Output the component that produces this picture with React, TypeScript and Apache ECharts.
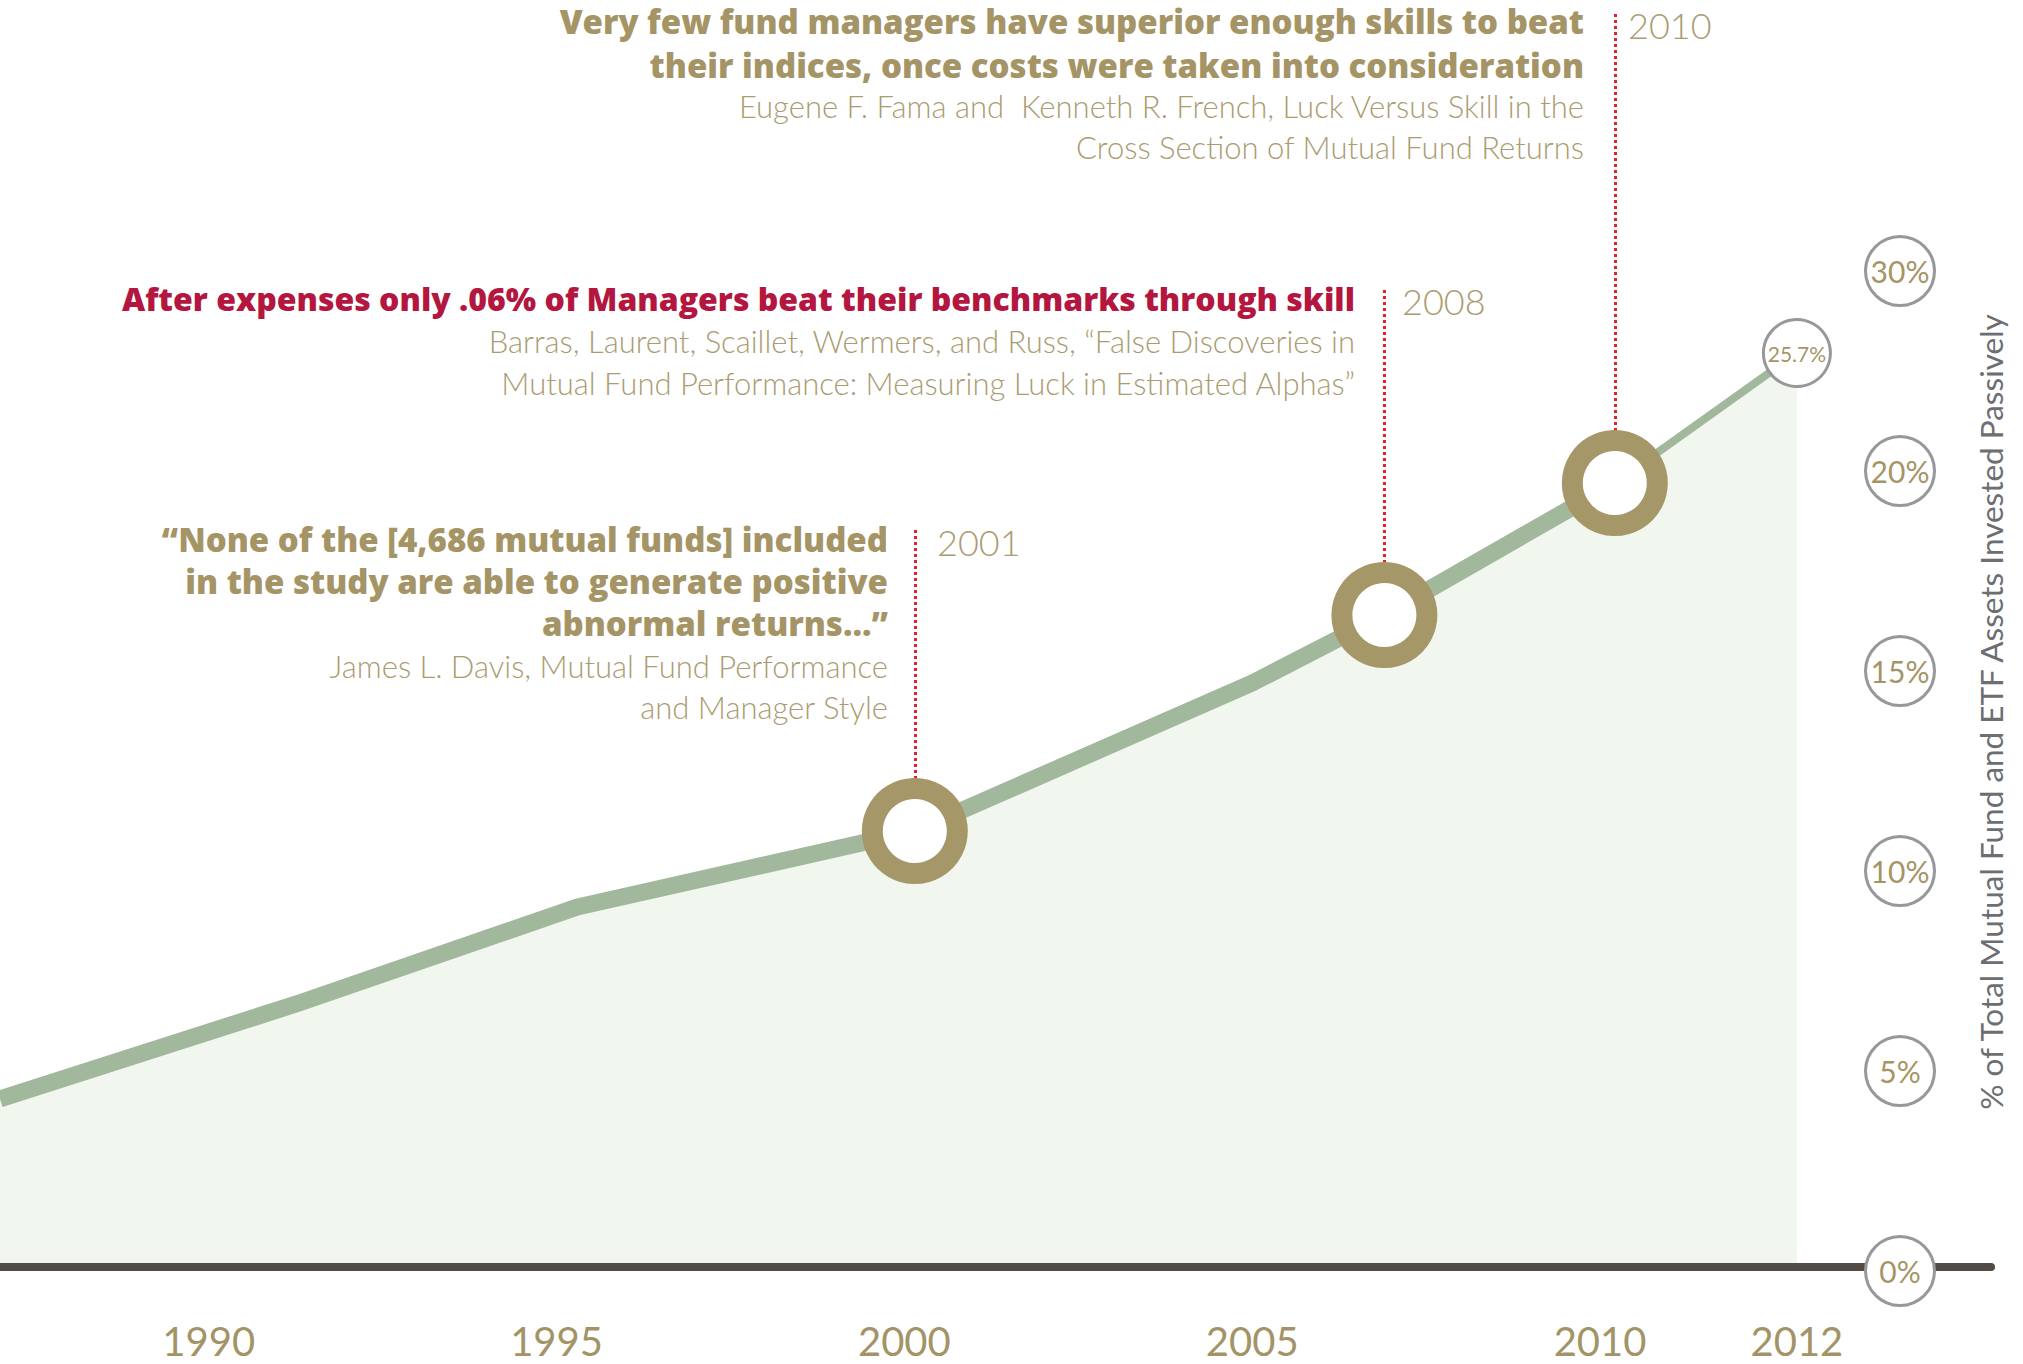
import React, { useEffect, useRef } from "react";
import * as echarts from "echarts";

// ---- data ----
const years = [1987, 1991.3, 1995.3, 2000.15, 2005, 2006.9, 2010.15, 2012];
const passiveShare = [4.2, 6.6, 9.0, 10.9, 14.6, 16.3, 19.6, 25.7];
const xTickYears = [1990, 1995, 2000, 2005, 2010, 2012];
const yTickPercents = [0, 5, 10, 15, 20, 30];
const studyPointIndex = [3, 5, 6];
const studyYearLabels = ["2001", "2008", "2010"];

const note2001Bold = [
  "\u201CNone of the [4,686 mutual funds] included",
  "in the study are able to generate positive",
  "abnormal returns...\u201D",
];
const note2001Src = ["James L. Davis, Mutual Fund Performance", "and Manager Style"];
const note2008Bold = ["After expenses only .06% of Managers beat their benchmarks through skill"];
const note2008Src = [
  "Barras, Laurent, Scaillet, Wermers, and Russ, \u201CFalse Discoveries in",
  "Mutual Fund Performance: Measuring Luck in Estimated Alphas\u201D",
];
const note2010Bold = [
  "Very few fund managers have superior enough skills to beat",
  "their indices, once costs were taken into consideration",
];
const note2010Src = [
  "Eugene F. Fama and  Kenneth R. French, Luck Versus Skill in the",
  "Cross Section of Mutual Fund Returns",
];
const yAxisTitle = "% of Total Mutual Fund and ETF Assets Invested Passively";

// ---- broken axes of the original (2010-2012 stretched, 20-30% squeezed) ----
const X_BREAK = 2010;
const X_STRETCH = 1.415;
const Y_BREAK = 20;
const Y_SQUEEZE = 0.5;
const toAxisX = (y: number) => (y <= X_BREAK ? y : X_BREAK + (y - X_BREAK) * X_STRETCH);
const fromAxisX = (v: number) => (v <= X_BREAK ? v : X_BREAK + (v - X_BREAK) / X_STRETCH);
const toAxisY = (p: number) => (p <= Y_BREAK ? p : Y_BREAK + (p - Y_BREAK) * Y_SQUEEZE);
const fromAxisY = (v: number) => (v <= Y_BREAK ? v : Y_BREAK + (v - Y_BREAK) / Y_SQUEEZE);
const fmt = (v: number) => String(Math.round(v * 10) / 10);

const GOLD = "#a59566";
const GOLD_LIGHT = "#aa9c71";
const RED = "#b3163e";
const LINE = "#a2b89c";
const AREA = "#f1f6ef";
const RING = "#a69769";
const FONT = "Lato";

function textLines(lines: string[], x: number, y0: number, step: number, style: any) {
  return lines.map((t, i) => ({
    type: "text",
    x,
    y: y0 + i * step,
    silent: true,
    style: { text: t, align: "right", verticalAlign: "middle", fontFamily: FONT, ...style },
  }));
}

export default function App() {
  const ref = useRef<HTMLDivElement>(null);
  useEffect(() => {
    document.body.style.margin = "0";
    const chart = echarts.init(ref.current!, null, { renderer: "svg" });
    const pts = years.map((y, i) => [toAxisX(y), toAxisY(passiveShare[i])]);
    const thick = pts.slice(0, 7);
    const thin = pts.slice(6);
    const rings = studyPointIndex.map((i) => pts[i]);
    const connectorTops = [18.5, 24.5, 31.35];
    const RING_TOP = 1.3; // ring outer radius in axis units
    const last = pts[pts.length - 1];

    const boldStyle = {
      fontSize: 33,
      lineHeight: 38,
      fontWeight: 800,
      fill: GOLD,
      fontFamily: "Open Sans",
    };
    const srcStyle = { fontSize: 31, lineHeight: 36, fontWeight: 300, fill: GOLD_LIGHT };
    const yearStyle = {
      fontSize: 36,
      lineHeight: 38,
      fontWeight: 300,
      fill: GOLD_LIGHT,
      align: "left",
    };

    chart.setOption({
      animation: false,
      grid: { left: 0, right: 32, top: 3, bottom: 97 },
      xAxis: {
        type: "value",
        min: 1987,
        max: 2015.62,
        z: 3,
        axisLine: { show: true, onZero: true, lineStyle: { color: "#524a45", width: 8 } },
        axisTick: { show: false },
        splitLine: { show: false },
        axisLabel: {
          customValues: xTickYears.map(toAxisX),
          formatter: (v: number) => String(Math.round(fromAxisX(v))),
          color: "#a39467",
          fontFamily: FONT,
          fontSize: 40,
          lineHeight: 40,
          margin: 54,
        },
      },
      yAxis: {
        type: "value",
        position: "right",
        offset: -91,
        min: 0,
        max: 31.6,
        z: 5,
        axisLine: { show: false },
        axisTick: { show: false },
        splitLine: { show: false },
        axisLabel: {
          customValues: yTickPercents.map(toAxisY),
          formatter: (v: number) => `{c|${fmt(fromAxisY(v))}%}`,
          margin: 0,
          align: "center",
          padding: [8, 0, 0, 0],
          rich: {
            c: {
              width: 66,
              height: 66,
              lineHeight: 66,
              align: "center",
              borderRadius: 33,
              borderWidth: 3,
              borderColor: "#98989b",
              backgroundColor: "#ffffff",
              color: "#a59566",
              fontFamily: FONT,
              fontSize: 30,
            },
          },
        },
      },
      series: [
        {
          type: "line",
          data: pts,
          showSymbol: false,
          silent: true,
          z: 1,
          lineStyle: { width: 0, opacity: 0 },
          areaStyle: { color: AREA, opacity: 1 },
          markLine: {
            silent: true,
            symbol: "none",
            z: 1,
            label: { show: false },
            lineStyle: { color: "#e3212b", width: 3, type: [3, 3] },
            data: rings.map((p, i) => [
              { coord: [p[0], p[1] + RING_TOP] },
              { coord: [p[0], connectorTops[i]] },
            ]),
          },
        },
        {
          type: "line",
          data: thick,
          showSymbol: false,
          silent: true,
          z: 2,
          lineStyle: { width: 17, color: LINE, join: "round" },
        },
        {
          type: "line",
          data: thin,
          showSymbol: false,
          silent: true,
          z: 2,
          lineStyle: { width: 8, color: LINE },
        },
        {
          type: "scatter",
          data: rings,
          symbol: "circle",
          symbolSize: 85,
          silent: true,
          z: 4,
          itemStyle: { color: "#ffffff", borderColor: RING, borderWidth: 21, opacity: 1 },
        },
        {
          type: "scatter",
          data: [last],
          symbol: "circle",
          symbolSize: 67,
          silent: true,
          z: 4,
          itemStyle: { color: "#ffffff", borderColor: "#98989b", borderWidth: 3, opacity: 1 },
          label: {
            show: true,
            position: "inside",
            formatter: () => `${fmt(passiveShare[passiveShare.length - 1])}%`,
            color: GOLD,
            fontFamily: FONT,
            fontSize: 21,
          },
        },
      ],
      graphic: [
        ...textLines(note2010Bold, 1584, 21, 44, boldStyle),
        ...textLines(note2010Src, 1584, 106, 41, srcStyle),
        ...textLines(note2008Bold, 1355, 298, 41, { ...boldStyle, fontSize: 32, fill: RED }),
        ...textLines(note2008Src, 1355, 341, 42, srcStyle),
        ...textLines(note2001Bold, 888, 539, 42, boldStyle),
        ...textLines(note2001Src, 888, 666, 41, srcStyle),
        ...textLines([studyYearLabels[2]], 1628, 25, 0, yearStyle),
        ...textLines([studyYearLabels[1]], 1402, 301, 0, yearStyle),
        ...textLines([studyYearLabels[0]], 937, 542, 0, yearStyle),
        {
          type: "text",
          x: 1991,
          y: 712,
          rotation: Math.PI / 2,
          silent: true,
          style: {
            text: yAxisTitle,
            align: "center",
            verticalAlign: "middle",
            fontFamily: FONT,
            fontSize: 31.5,
            fill: "#6d6e71",
          },
        },
      ],
    });
    return () => chart.dispose();
  }, []);
  return (
    <div
      ref={ref}
      style={{ position: "absolute", left: 0, top: 0, width: 2023, height: 1364 }}
    />
  );
}
